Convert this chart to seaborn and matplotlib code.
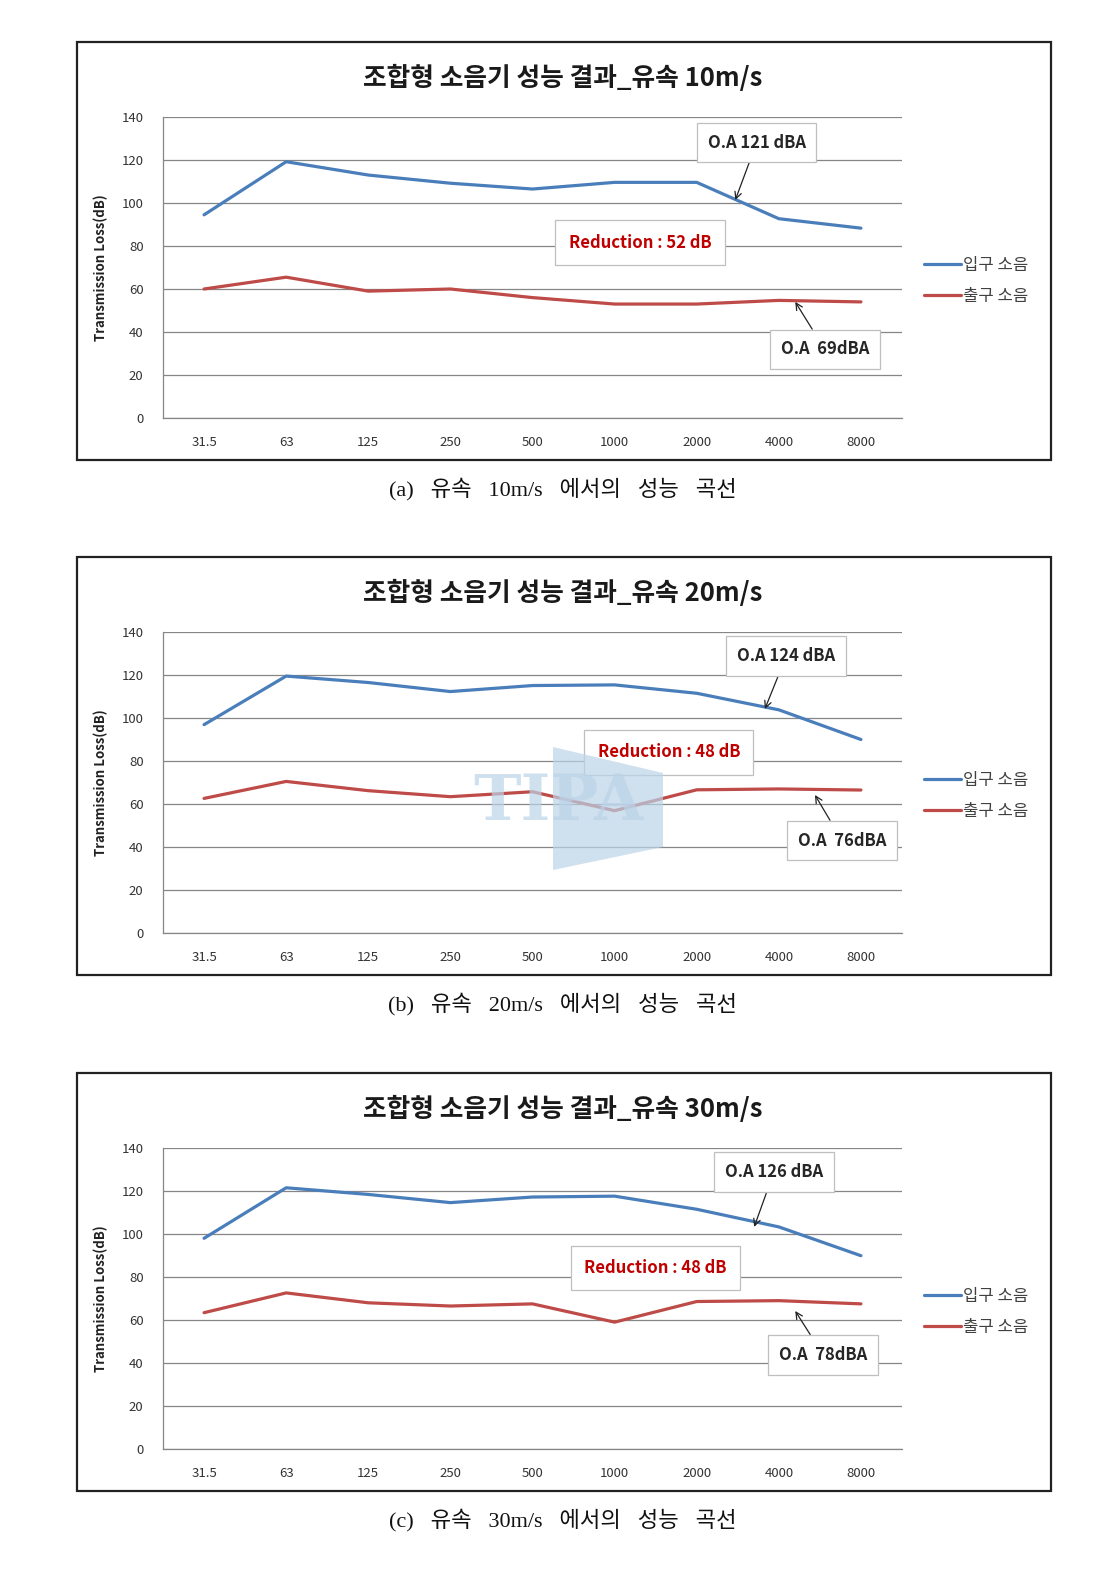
import numpy as np
import matplotlib.pyplot as plt
import matplotlib.patches as mpatches
import seaborn as sns
import pandas as pd

sns.set_style('white')
plt.rcParams['font.family'] = ['Noto Sans CJK KR', 'DejaVu Sans']

W, H = 1106, 1578

freqs = ['31.5', '63', '125', '250', '500', '1000', '2000', '4000', '8000']
series_names = ['입구 소음', '출구 소음']

inlet_10 = [94.5, 119.2, 113.0, 109.2, 106.5, 109.6, 109.6, 92.7, 88.3]
outlet_10 = [60.0, 65.5, 59.0, 60.0, 56.0, 53.0, 53.0, 54.7, 54.0]
inlet_20 = [96.9, 119.5, 116.5, 112.3, 115.1, 115.4, 111.5, 103.8, 90.0]
outlet_20 = [62.6, 70.5, 66.2, 63.4, 65.7, 56.9, 66.6, 67.0, 66.5]
inlet_30 = [98.0, 121.5, 118.4, 114.6, 117.2, 117.6, 111.5, 103.3, 89.9]
outlet_30 = [63.4, 72.6, 68.0, 66.5, 67.5, 59.0, 68.6, 69.0, 67.5]

titles = ['조합형 소음기 성능 결과_유속 10m/s',
          '조합형 소음기 성능 결과_유속 20m/s',
          '조합형 소음기 성능 결과_유속 30m/s']
captions = ['(a)   유속   10m/s   에서의   성능   곡선',
            '(b)   유속   20m/s   에서의   성능   곡선',
            '(c)   유속   30m/s   에서의   성능   곡선']
inlet_oa = ['O.A 121 dBA', 'O.A 124 dBA', 'O.A 126 dBA']
outlet_oa = ['O.A  69dBA', 'O.A  76dBA', 'O.A  78dBA']
reductions = ['Reduction : 52 dB', 'Reduction : 48 dB', 'Reduction : 48 dB']

# annotation placement (text centre, arrow tip) in data units
inlet_note_pos = [((6.73, 128.1), (6.47, 101.4)),
                  ((7.09, 128.8), (6.83, 104.2)),
                  ((6.94, 128.8), (6.70, 103.3))]
outlet_note_pos = [((7.56, 31.9), (7.20, 54.0)),
                   ((7.77, 43.0), (7.44, 64.2)),
                   ((7.54, 43.7), (7.20, 64.2))]
reduction_pos = [(5.31, 81.6), (5.66, 84.0), (5.50, 84.2)]

panel_top = [42, 557, 1073]
colors = ['#4A7EBB', '#BE4B48']
grid_c = '#868686'

fig = plt.figure(figsize=(W / 100, H / 100), dpi=100)


def px_axes(l, t, r, b):
    return fig.add_axes([l / W, 1 - b / H, (r - l) / W, (b - t) / H])


data = [(inlet_10, outlet_10), (inlet_20, outlet_20), (inlet_30, outlet_30)]

for i, (inlet, outlet) in enumerate(data):
    top = panel_top[i]
    # outer frame of the chart
    fig.patches.append(mpatches.Rectangle((77 / W, 1 - (top + 418) / H), 974 / W, 418 / H,
                                          transform=fig.transFigure, fill=False,
                                          edgecolor='#222222', lw=1.6))
    ax = px_axes(163, top + 75, 902, top + 376)

    df = pd.DataFrame({
        'freq': freqs * 2,
        'level': inlet + outlet,
        'series': [series_names[0]] * 9 + [series_names[1]] * 9,
    })
    sns.lineplot(data=df, x='freq', y='level', hue='series', palette=colors,
                 sort=False, lw=2.3, ax=ax, zorder=3)

    ax.set_xlim(-0.5, 8.5)
    ax.set_ylim(0, 140)
    ax.set_yticks(range(0, 141, 20))
    ax.grid(axis='y', color=grid_c, lw=0.9)
    ax.set_axisbelow(True)
    for s in ['top', 'right']:
        ax.spines[s].set_visible(False)
    for s in ['left', 'bottom']:
        ax.spines[s].set_color(grid_c)
        ax.spines[s].set_linewidth(0.9)
    ax.tick_params(axis='x', length=0, pad=13, labelsize=9.5, labelcolor='#333333')
    ax.tick_params(axis='y', length=0, pad=14, labelsize=9.5, labelcolor='#333333')
    ax.set_xlabel('')
    ax.set_ylabel('Transmission Loss(dB)', fontsize=9.5, fontweight='bold', color='#222222')
    ax.yaxis.set_label_coords(-55 / 740, 0.5)

    handles, labels = ax.get_legend_handles_labels()
    ax.legend(handles, labels, loc='center left', bbox_to_anchor=(1.03, 0.455),
              frameon=False, fontsize=12, handlelength=2.2, handletextpad=0.1,
              labelspacing=0.85, borderpad=0, borderaxespad=0, labelcolor='#404040')

    box = dict(boxstyle='square,pad=0.65', fc='white', ec='#BFBFBF', lw=0.9)
    (tx, ty), (ax_, ay) = inlet_note_pos[i]
    ax.annotate(inlet_oa[i], xy=(ax_, ay), xytext=(tx, ty), fontsize=12,
                fontweight='bold', ha='center', va='center', bbox=box, zorder=5,
                arrowprops=dict(arrowstyle='->', color='#222222', lw=0.9,
                                shrinkA=0, shrinkB=0))
    (tx, ty), (ax_, ay) = outlet_note_pos[i]
    ax.annotate(outlet_oa[i], xy=(ax_, ay), xytext=(tx, ty), fontsize=12,
                fontweight='bold', ha='center', va='center', bbox=box, zorder=5,
                arrowprops=dict(arrowstyle='->', color='#222222', lw=0.9,
                                shrinkA=0, shrinkB=0))
    rx, ry = reduction_pos[i]
    ax.text(rx, ry, reductions[i], fontsize=12, fontweight='bold', color='#C00000',
            ha='center', va='center', zorder=5,
            bbox=dict(boxstyle='square,pad=0.8', fc='white', ec='#BFBFBF', lw=0.9))

    fig.text(563 / W, 1 - (top + 36) / H, titles[i], fontsize=18.5, fontweight='bold',
             ha='center', va='center', color='#1a1a1a')
    fig.text(563 / W, 1 - (top + 447) / H, captions[i], fontsize=16,
             family=['Liberation Serif', 'Noto Sans CJK KR'],
             ha='center', va='center', color='#111111')

    if i == 1:
        # faint watermark behind the second chart
        poly = [(553, 747), (663, 773), (663, 847), (553, 870)]
        fig.patches.append(mpatches.Polygon([(x / W, 1 - y / H) for x, y in poly],
                                            closed=True, transform=fig.transFigure,
                                            fc='#BBD3E8', ec='none', alpha=0.7, zorder=0.5))
        fig.text(558 / W, 1 - 802 / H, 'TIPA', fontsize=46, fontweight='bold',
                 family=['DejaVu Serif'], color='#BBD3E8', alpha=0.7,
                 ha='center', va='center', zorder=0.5)

fig.savefig('out.png', dpi=100, facecolor='white')
